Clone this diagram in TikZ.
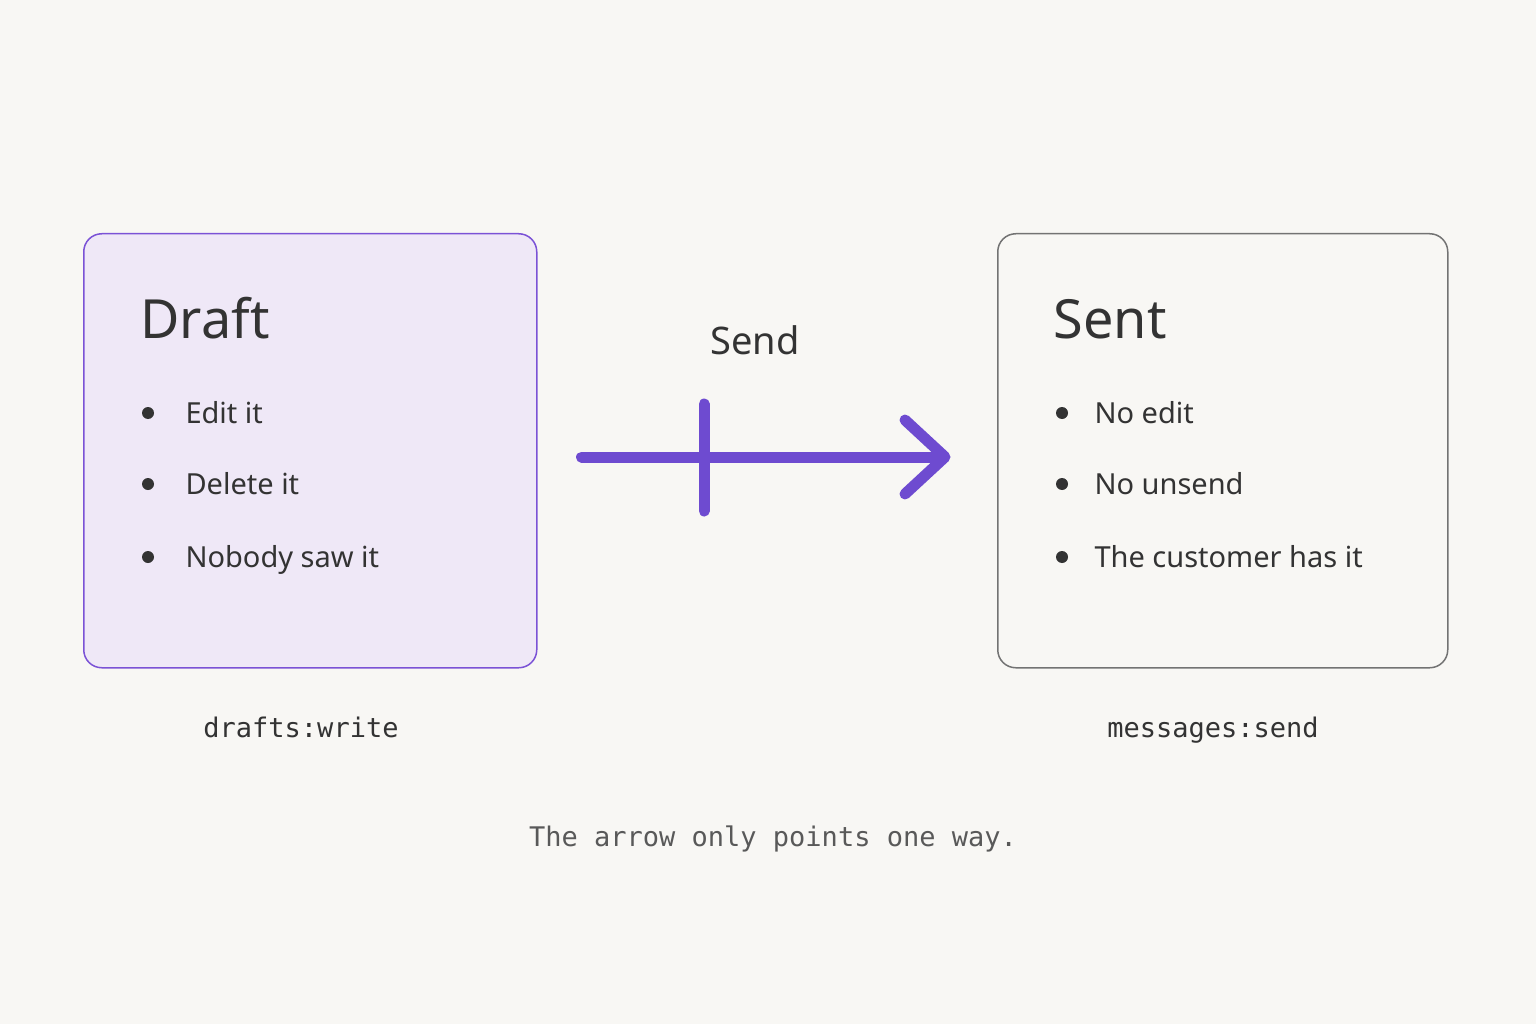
\documentclass[tikz,border=0pt]{standalone}
\usepackage{fontspec}
\setmainfont{Noto Sans}
\setmonofont{DejaVu Sans Mono}
\begin{document}
\begin{tikzpicture}[x=1pt,y=-1pt,
 box/.style={draw,rounded corners=18pt,line width=1.5pt,anchor=north west,inner sep=0pt},
 title/.style={anchor=base west,font=\fontsize{54}{60}\selectfont\bfseries,text=black!80},
 item/.style={anchor=base west,font=\fontsize{29}{34}\selectfont,text=black!80},
 dot/.style={circle,fill=black!80,inner sep=0pt,minimum size=12pt},
 mono/.style={anchor=base,font=\ttfamily\fontsize{27}{32}\selectfont,text=black!80},
 conn/.style={draw=arrowc,line width=11pt,line cap=round,line join=round}]
\definecolor{bg}{HTML}{F8F7F4}
\definecolor{arrowc}{HTML}{6E4BD0}
\fill[bg] (0,0) rectangle (1536,1024);
\useasboundingbox (0,0) rectangle (1536,1024);
\node[box,draw={rgb,255:red,123;green,82;blue,214},fill={rgb,255:red,239;green,232;blue,247},minimum width=453pt,minimum height=434pt] (draft) at (83,233) {};
\node[box,draw=black!55,fill=bg,minimum width=450pt,minimum height=434pt] (sent) at (997,233) {};
\node[title] (dt) at (137,338) {Draft};
\node[title] (st) at (1050,338) {Sent};
\foreach \y/\t [count=\i] in {413/Edit it,484/Delete it,557/Nobody saw it}{
  \node[dot] (dd\i) at (148,\y) {};
  \node[item] (di\i) at (182,\y+10) {\t};}
\foreach \y/\t [count=\i] in {413/No edit,484/No unsend,557/The customer has it}{
  \node[dot] (sd\i) at (1062,\y) {};
  \node[item] (si\i) at (1091,\y+10) {\t};}
\node[anchor=base,font=\fontsize{38}{44}\selectfont\bfseries,text=black!80] (send) at (755,354) {Send};
\coordinate (tip) at (945,457);
\draw[conn,shorten <=44pt,shorten >=2pt] (draft.east|-tip) -- (tip);
\draw[conn] (905,420) -- (tip) -- (905,494);
\coordinate (b1) at (704,404); \coordinate (b2) at (704,511);
\draw[conn] (b1) -- (b2);
\node[mono] (m1) at (301,737) {drafts:write};
\node[mono] (m2) at (1213,737) {messages:send};
\node[mono,text=black!65] (cap) at (773,846) {The arrow only points one way.};
\end{tikzpicture}
\end{document}
